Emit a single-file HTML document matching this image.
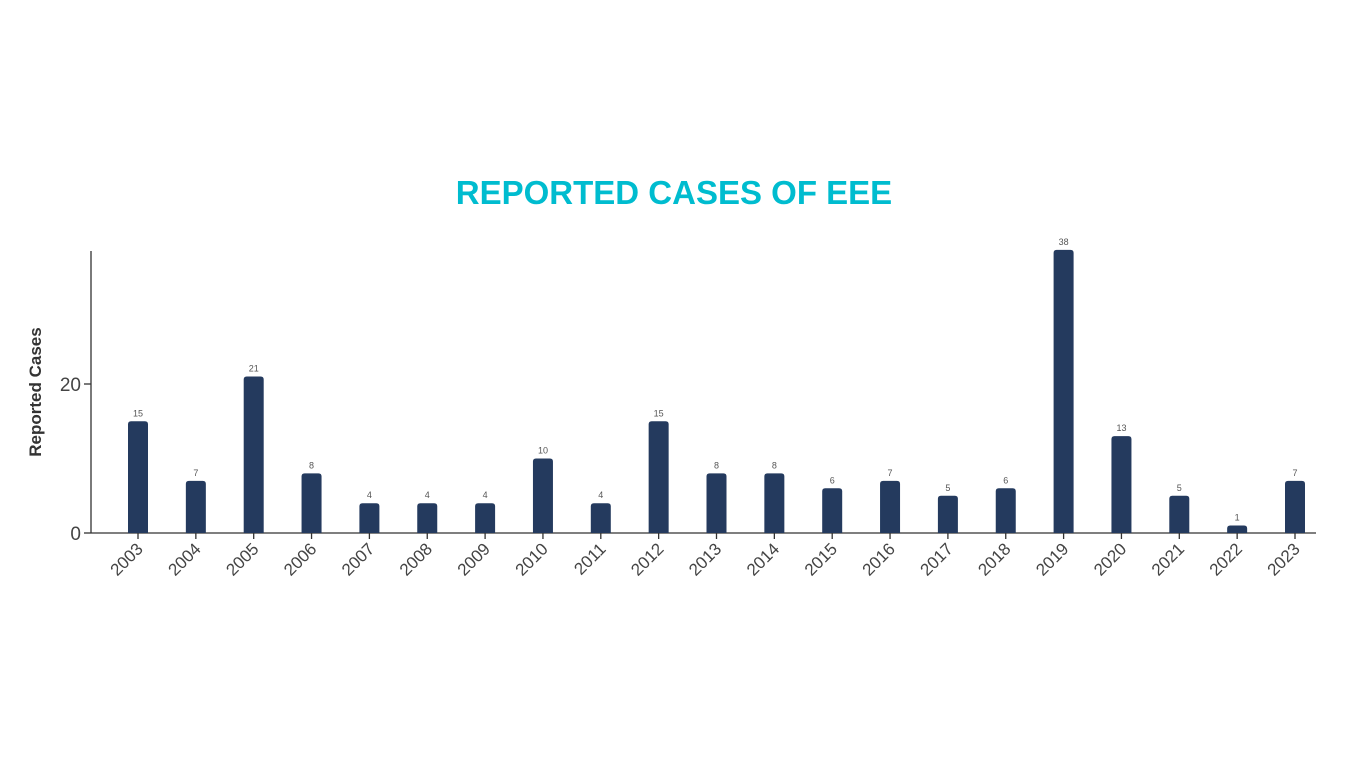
<!DOCTYPE html>
<html><head><meta charset="utf-8"><style>
html,body{margin:0;padding:0;background:#fff;width:1366px;height:768px;overflow:hidden}
svg{display:block;font-family:"Liberation Sans",sans-serif}
</style></head><body>
<svg id="chart" width="1366" height="768">
<text x="674" y="204" text-anchor="middle" font-size="33" font-weight="bold" fill="#00bccf">REPORTED CASES OF EEE</text>
<text transform="translate(41,392) rotate(-90)" text-anchor="middle" font-size="17" font-weight="bold" fill="#333">Reported Cases</text>
<line x1="91" y1="251" x2="91" y2="533" stroke="#333" stroke-width="1.3"/>
<line x1="91" y1="533" x2="1316" y2="533" stroke="#333" stroke-width="1.3"/>
<g id="yticks"></g><g id="bars"></g>
</svg>
<script>
const years=["2003","2004","2005","2006","2007","2008","2009","2010","2011","2012","2013","2014","2015","2016","2017","2018","2019","2020","2021","2022","2023"];
const cases=[15,7,21,8,4,4,4,10,4,15,8,8,6,7,5,6,38,13,5,1,7];
const yTicks=[0,20];
const NS="http://www.w3.org/2000/svg";
const y0=533,yScale=(533-384)/20;
function y(v){return y0-v*yScale;}
function x(i){return 138+i*57.85;}
function mk(t,a){const e=document.createElementNS(NS,t);for(const k in a)e.setAttribute(k,a[k]);return e;}
const yt=document.getElementById('yticks');
yTicks.forEach(v=>{
 const l=mk('line',{x1:84,x2:91,y1:y(v),y2:y(v),stroke:'#333','stroke-width':1.3});
 
 
 yt.appendChild(l);
 const t=mk('text',{x:81,y:y(v)+7,'text-anchor':'end','font-size':19,fill:'#444'});
 
 
 t.textContent=v;yt.appendChild(t);
});
const g=document.getElementById('bars');
years.forEach((yr,i)=>{
 const cx=x(i),v=cases[i],top=y(v),h=y0-top;
 const p=mk('path',{d:`M${cx-10},${y0}V${top+3}Q${cx-10},${top} ${cx-7},${top}H${cx+7}Q${cx+10},${top} ${cx+10},${top+3}V${y0}Z`,fill:'#243a5e'});
 
 
 g.appendChild(p);
 const vl=mk('text',{x:cx,y:top-5,'text-anchor':'middle','font-size':9,fill:'#555'});
 
 
 vl.textContent=v;g.appendChild(vl);
 const tk=mk('line',{x1:cx,x2:cx,y1:533,y2:539,stroke:'#333','stroke-width':1.3});
 
 
 g.appendChild(tk);
 const xl=mk('text',{transform:`translate(${cx+6},${550}) rotate(-45)`,'text-anchor':'end','font-size':17,fill:'#444'});
 
 
 xl.textContent=yr;g.appendChild(xl);
});
</script>
</body></html>
